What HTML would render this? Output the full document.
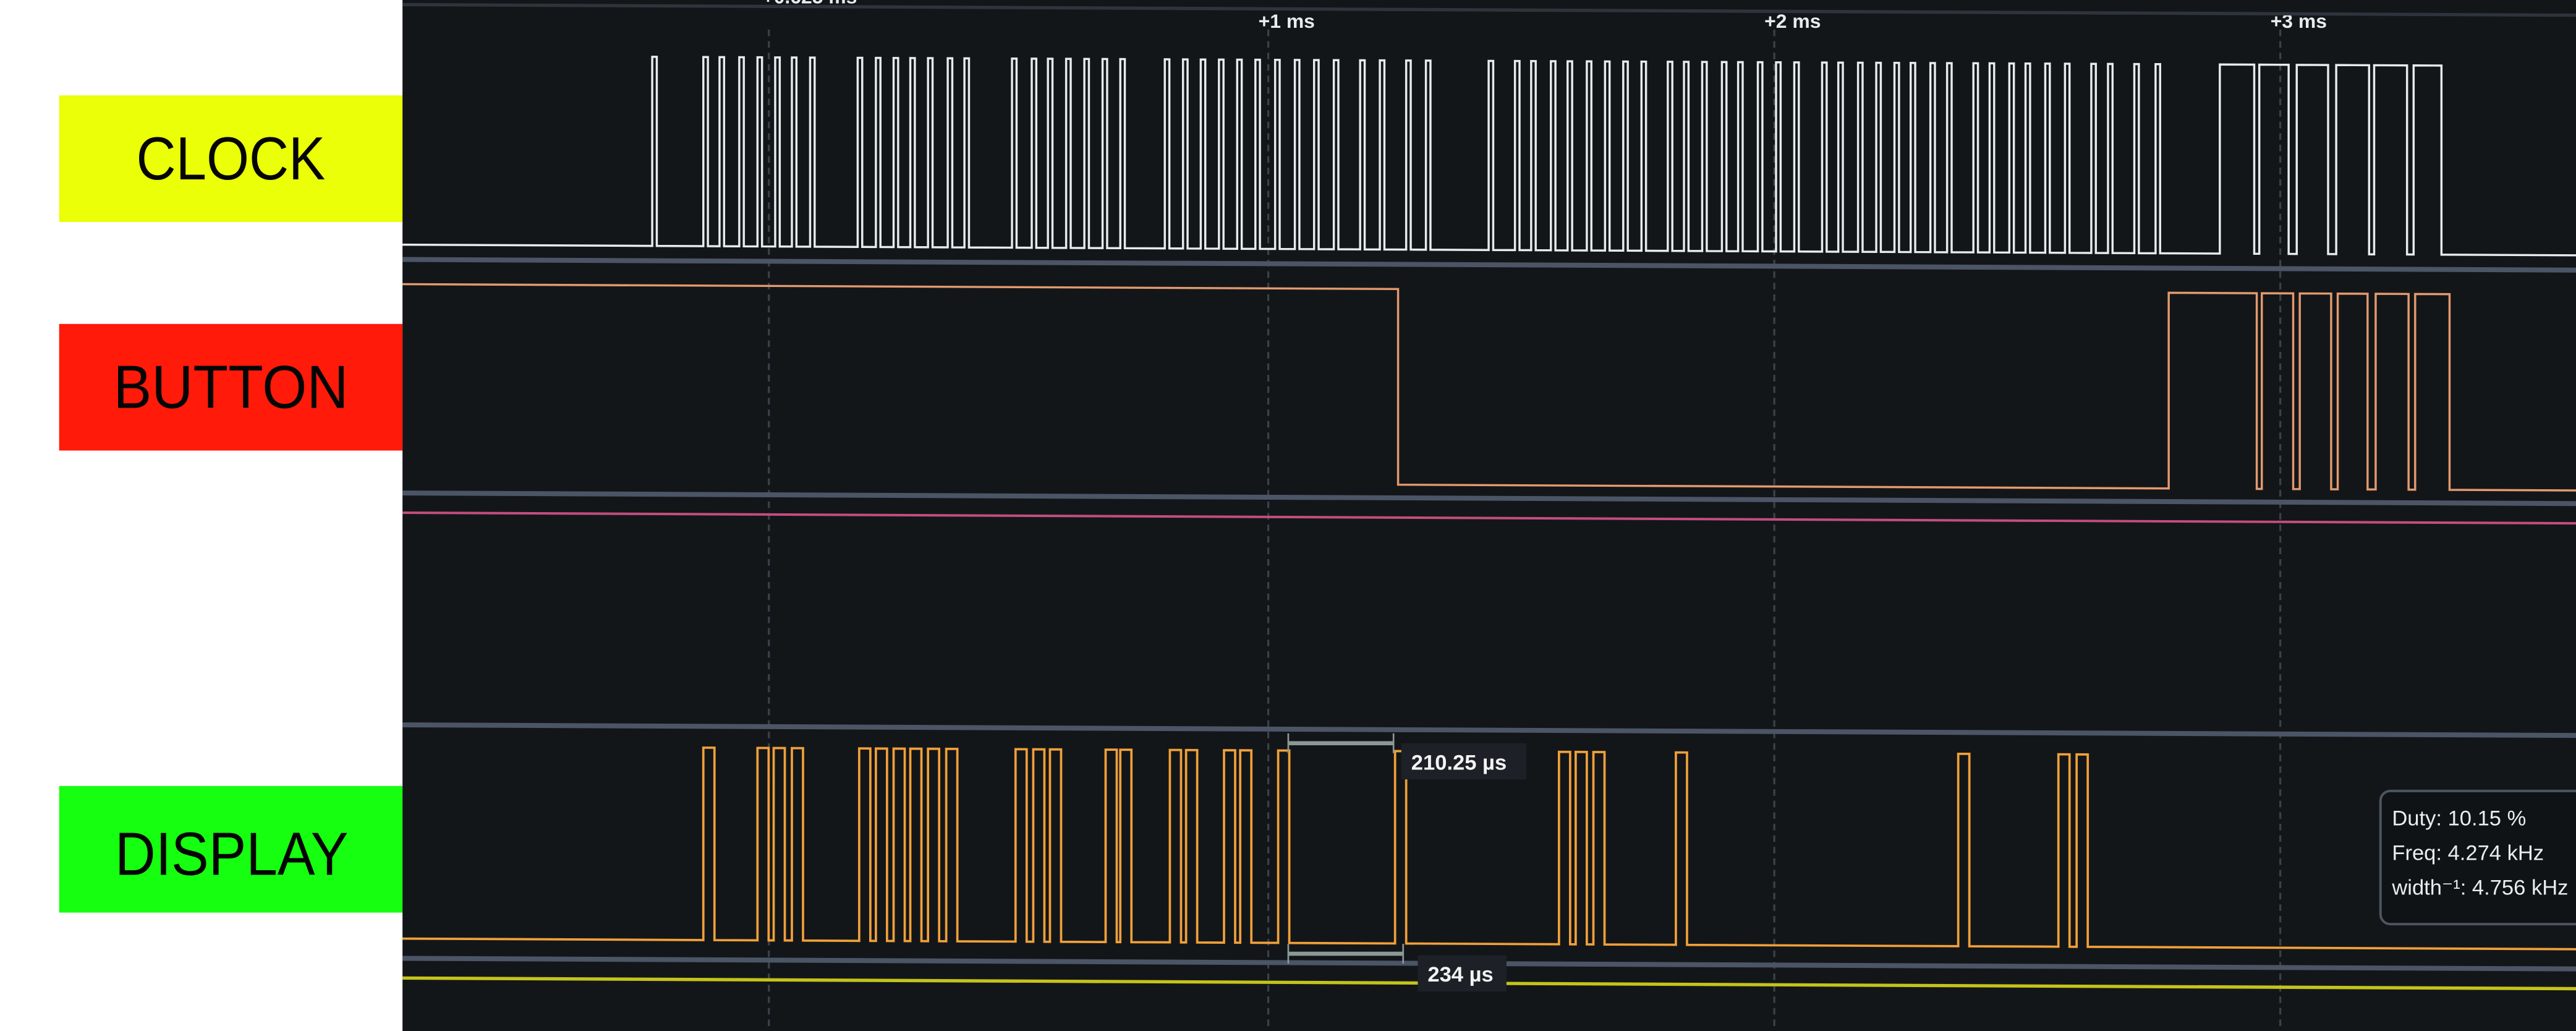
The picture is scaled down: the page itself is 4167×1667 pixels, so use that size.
<!DOCTYPE html>
<html><head><meta charset="utf-8"><style>
html,body{margin:0;padding:0;background:#fff;overflow:hidden}
svg{display:block}
</style></head><body>
<svg id="chart" width="4167" height="1667" viewBox="0 0 1568 627" preserveAspectRatio="none" xmlns="http://www.w3.org/2000/svg" font-family="Liberation Sans, sans-serif">
  <rect x="0" y="0" width="245" height="627" fill="#ffffff"/>
  <g>
    <rect x="36" y="58" width="209" height="77" fill="#eaff08"/>
    <text x="83" y="109" font-size="37" textLength="115" lengthAdjust="spacingAndGlyphs" fill="#050505">CLOCK</text>
  </g>
  <g>
    <rect x="36" y="197" width="209" height="77" fill="#ff1a0a"/>
    <text x="69" y="248" font-size="37" textLength="143" lengthAdjust="spacingAndGlyphs" fill="#050505">BUTTON</text>
  </g>
  <g>
    <rect x="36" y="478" width="209" height="77" fill="#16ff10"/>
    <text x="70" y="532" font-size="37" textLength="142" lengthAdjust="spacingAndGlyphs" fill="#050505">DISPLAY</text>
  </g>
  <rect x="245" y="0" width="1323" height="627" fill="#131619"/>
  <g id="grid"></g>
  <g id="tilted" transform="translate(245,0) skewY(0.28) translate(-245,-1.2)"></g>
  <g id="overlay"></g>
</svg>
<script>
// time in microseconds relative to trigger
const tickLabels = ["+1 ms", "+2 ms", "+3 ms"];
const tickTimes = [1000, 2000, 3000];
const markerTime = 13;
const clockFastRises = [-211,-110,-78,-39,-3,32,65,101,195,231,266,299,334,373,406,500,539,571,607,643,679,714,802,838,873,909,945,981,1020,1059,1097,1136,1188,1227,1279,1318,1442,1494,1526,1565,1598,1636,1672,1708,1744,1796,1828,1864,1903,1935,1974,2010,2046,2101,2133,2172,2208,2244,2276,2315,2348,2400,2432,2471,2503,2542,2581,2633,2666,2718,2760];
const clockFastWidth = 9;
const clockSlowRises = [2887,2965,3039,3117,3192,3270];
const clockSlowWidths = [68,58,62,65,65,55];
const buttonEdges = [1263,2786,2960,2970,3032,3045,3107,3120,3179,3195,3260,3273,3341];
const buttonStartHigh = true;
const displayRises = [-110,-3,29,65,198,231,266,299,334,370,507,542,575,685,714,812,844,919,951,1026,1257,1581,1614,1649,1812,2370,2568,2604];
const displayWidth = 22;
const measureTop = {from:1046, to:1254, label:"210.25 µs"};
const measureBot = {from:1046, to:1273, label:"234 µs"};
const tooltipLines = ["Duty: 10.15 %","Freq: 4.274 kHz","width\u207B\u00B9: 4.756 kHz"];

const NS = "http://www.w3.org/2000/svg";
const xs = t => 462 + t * 0.308;
const X0 = 245, X1 = 1570;
function mk(tag, attrs, parent){const e=document.createElementNS(NS,tag);for(const k in attrs)e.setAttribute(k,attrs[k]);parent.appendChild(e);return e;}
const grid = document.getElementById('grid');
const tilted = document.getElementById('tilted');
const overlay = document.getElementById('overlay');

[markerTime].concat(tickTimes).forEach((t,i)=>{
  const l = mk('line',{x1:xs(t)+2,x2:xs(t)+2,y1:18,y2:627,stroke:'#3b424b','stroke-width':1.2,'stroke-dasharray':'4 3'},grid);
  
  
});
tickLabels.forEach((s,i)=>{
  const t = mk('text',{x:xs(tickTimes[i])-4,y:17,'font-size':12,'font-weight':'bold',fill:'#e8ecef'},grid);
  t.textContent = s;
  
  
});
const mt = mk('text',{x:xs(markerTime)-2,y:2,'font-size':12,'font-weight':'bold',fill:'#e8ecef'},grid);
mt.textContent = "+0.625 ms";



[[4,'#2e343c',2],[159,'#4b5566',3],[301,'#4b5566',3],[313,'#c44d80',1.5],[442,'#4b5566',3],[584,'#4b5566',3],[596,'#c3c41a',2]].forEach((s)=>{
  const l = mk('line',{x1:X0,x2:X1,y1:s[0],y2:s[0],stroke:s[1],'stroke-width':s[2]},tilted);
  
  
});

function pulsePath(rises, widths, hi, lo){
  let d = `M${X0},${lo}`;
  rises.forEach((r,i)=>{const a=xs(r), b=xs(r+widths[i]); d+=` L${a},${lo} L${a},${hi} L${b},${hi} L${b},${lo}`;});
  d += ` L${X1},${lo}`; return d;
}
const allClockRises = clockFastRises.concat(clockSlowRises);
const allClockWidths = clockFastRises.map(()=>clockFastWidth).concat(clockSlowWidths);
const clk = mk('path',{d:pulsePath(allClockRises,allClockWidths,35,150),fill:'none',stroke:'#e6ebee','stroke-width':1.3},tilted);



let level = buttonStartHigh, yb = v => v ? 174 : 293;
let bd = `M${X0},${yb(level)}`;
buttonEdges.forEach(t=>{const x=xs(t); bd+=` L${x},${yb(level)}`; level=!level; bd+=` L${x},${yb(level)}`;});
bd += ` L${X1},${yb(level)}`;
const btn = mk('path',{d:bd,fill:'none',stroke:'#e39a6e','stroke-width':1.3},tilted);



const disp = mk('path',{d:pulsePath(displayRises,displayRises.map(()=>displayWidth),455,572),fill:'none',stroke:'#f0a03a','stroke-width':1.4},tilted);



function measure(m, y, lx, ly, lw, name){
  const g = mk('g',{},overlay);
  
  
  const a=xs(m.from), b=xs(m.to);
  mk('line',{x1:a,x2:b,y1:y,y2:y,stroke:'#8b9996','stroke-width':2.5},g);
  mk('line',{x1:a,x2:a,y1:y-6,y2:y+6,stroke:'#8b9996','stroke-width':1},g);
  mk('line',{x1:b,x2:b,y1:y-6,y2:y+6,stroke:'#8b9996','stroke-width':1},g);
  mk('rect',{x:lx,y:ly,width:lw,height:22,fill:'#1d2127'},g);
  const t = mk('text',{x:lx+6,y:ly+16,'font-size':13,'font-weight':'bold',fill:'#f2f4f4'},g);
  t.textContent = m.label;
}
measure(measureTop, 452, 853, 452, 76, 'pulse-width-measurement');
measure(measureBot, 580, 863, 581, 54, 'period-measurement');

const tg = mk('g',{},overlay);


mk('rect',{x:1449,y:481,width:140,height:81,rx:6,fill:'#101316',stroke:'#4c5561','stroke-width':1.5},tg);
tooltipLines.forEach((s,i)=>{
  const t = mk('text',{x:1456,y:502+i*21,'font-size':13,fill:'#e8eeee'},tg);
  t.textContent = s;
});
</script>
</body></html>
